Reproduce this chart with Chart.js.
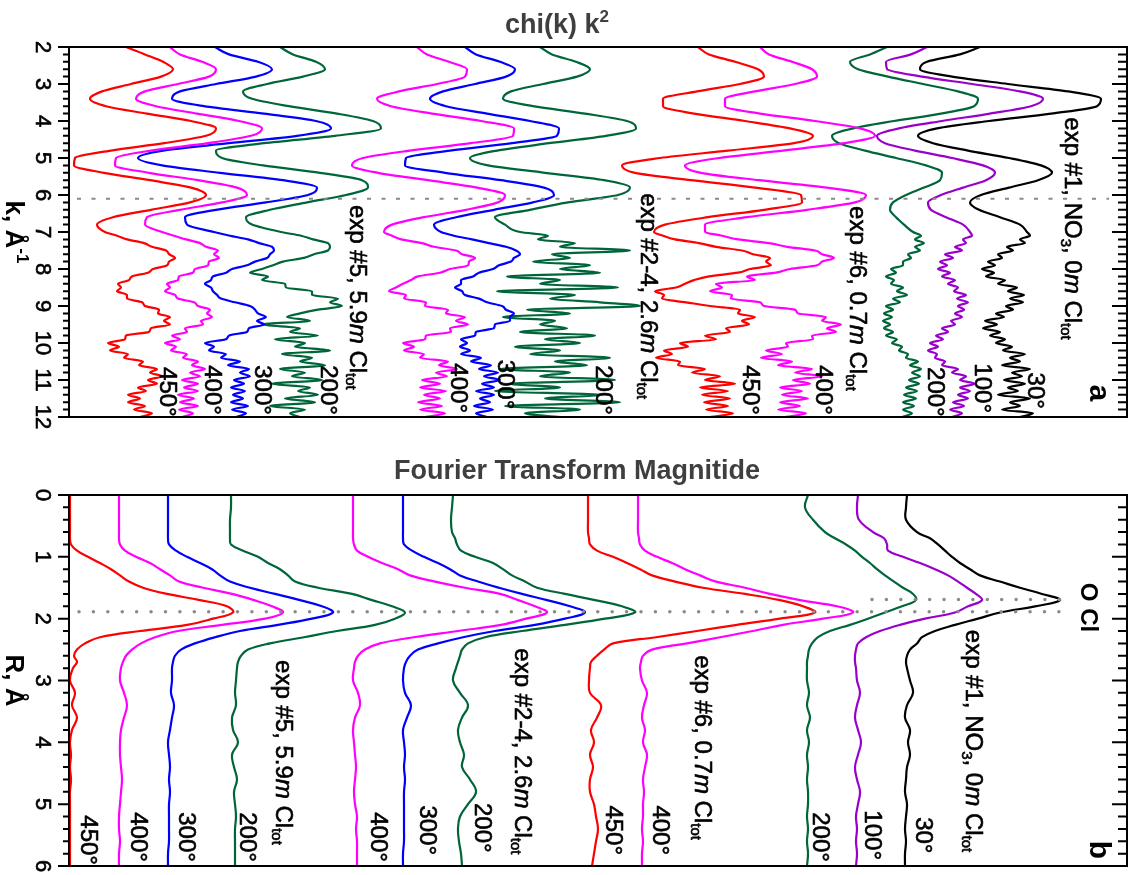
<!DOCTYPE html>
<html>
<head>
<meta charset="utf-8" />
<title>chi(k) k2 / Fourier Transform Magnitide</title>
<script src="https://cdn.jsdelivr.net/npm/chart.js@4.4.1/dist/chart.umd.min.js"></script>
<style>
  html, body { margin: 0; padding: 0; background: #fff; }
  canvas { display: block; }
</style>
</head>
<body>
<canvas id="chiChart" width="1140" height="440"></canvas>
<canvas id="ftChart" width="1140" height="435"></canvas>
<script>
// k grid: 0.2 steps to 6.8, then 0.1 steps where the noise sets in
const kValues = [
  2.0, 2.2, 2.4, 2.6, 2.8, 3.0, 3.2, 3.4, 3.6, 3.8, 4.0, 4.2, 4.4, 4.6, 4.8,
  5.0, 5.2, 5.4, 5.6, 5.8, 6.0, 6.2, 6.4, 6.6, 6.8,
  7.0, 7.1, 7.2, 7.3, 7.4, 7.5, 7.6, 7.7, 7.8, 7.9, 8.0, 8.1, 8.2, 8.3, 8.4,
  8.5, 8.6, 8.7, 8.8, 8.9, 9.0, 9.1, 9.2, 9.3, 9.4, 9.5, 9.6, 9.7, 9.8, 9.9,
  10.0, 10.1, 10.2, 10.3, 10.4, 10.5, 10.6, 10.7, 10.8, 10.9, 11.0, 11.1,
  11.2, 11.3, 11.4, 11.5, 11.6, 11.7, 11.8, 11.9, 12.0,
];
const rValues = [
  0, 0.2, 0.4, 0.6, 0.7, 0.8, 0.9, 1.0, 1.1, 1.2, 1.3, 1.4, 1.5, 1.6, 1.7,
  1.8, 1.9, 2.0, 2.1, 2.2, 2.3, 2.4, 2.5, 2.6, 2.7, 2.8, 3.0, 3.2, 3.4, 3.6,
  3.8, 4.0, 4.2, 4.4, 4.6, 4.8, 5.0, 5.2, 5.4, 5.6, 5.8, 6.0,
];
const kTicks = [2, 3, 4, 5, 6, 7, 8, 9, 10, 11, 12];
const rTicks = [0, 1, 2, 3, 4, 5, 6];

// chi(k)k^2 traces, offset along the horizontal axis (a.u.)
const chiExp5_450 = [
  5.7, 7.6, 9.4, 10.4, 9.2, 6.2, 3.3, 2.1, 3.7, 7.8, 12.2, 14.7, 13.7, 9.5, 4.2, 0.6, 0.5, 3.5, 8.1, 12.2, 13.7, 12.1, 8.2, 4.4, 2.8,
  3.6, 4.8, 5.8, 7.5, 8.3, 9.7, 10.0, 10.6, 10.0, 9.8, 8.4, 7.9, 6.3, 6.0, 4.9, 5.2, 4.8, 5.8, 5.8, 7.3,
  7.6, 9.0, 8.9, 10.1, 9.5, 10.1, 8.2, 8.0, 5.7, 5.6, 3.9, 5.0, 4.1, 5.9, 5.5, 7.4, 7.0, 8.8, 8.1, 9.3,
  7.9, 8.8, 6.9, 7.7, 5.9, 7.1, 5.9, 7.6, 6.5, 8.3, 7.1,
];
const chiExp5_400 = [
  10.1, 11.1, 13.3, 14.7, 14.0, 10.9, 7.6, 6.7, 8.7, 12.8, 17.0, 19.3, 18.2, 13.9, 8.2, 4.7, 4.6, 8.0, 12.9, 16.8, 17.8, 15.3, 11.1, 7.8, 7.6,
  9.3, 10.5, 11.7, 13.1, 13.7, 14.9, 14.5, 15.0, 14.0, 13.9, 12.6, 12.4, 11.0, 10.9, 9.8, 10.1, 9.6, 10.6, 10.9, 12.5,
  12.9, 14.1, 13.8, 14.3, 13.2, 13.4, 11.6, 11.8, 10.3, 11.1, 9.6, 10.7, 10.2, 11.8, 11.4, 12.9, 12.3, 13.6, 12.1, 13.1,
  11.3, 12.9, 11.5, 12.9, 10.9, 12.5, 11.1, 12.9, 11.0, 12.4, 11.3,
];
const chiExp5_300 = [
  14.6, 16.0, 18.9, 20.3, 18.7, 14.7, 11.1, 10.3, 13.5, 19.5, 24.7, 26.2, 22.8, 16.0, 9.4, 6.9, 9.3, 15.1, 21.4, 24.8, 23.9, 19.7, 14.7, 11.6, 11.8,
  14.5, 16.1, 17.9, 19.0, 20.3, 20.5, 20.1, 19.8, 18.6, 17.8, 16.3, 15.7, 14.4, 14.2, 13.6, 14.2, 14.4, 14.8, 15.2, 16.6,
  18.1, 18.6, 18.9, 19.7, 18.8, 19.5, 18.0, 17.8, 16.0, 15.7, 13.6, 14.5, 14.0, 15.7, 15.2, 17.1, 15.9, 18.0, 17.1, 18.1,
  16.5, 17.5, 16.2, 17.6, 16.4, 17.4, 16.2, 17.9, 16.3, 17.7, 16.7,
];
const chiExp5_200 = [
  21.1, 22.4, 24.7, 25.6, 23.4, 19.8, 17.4, 18.3, 22.0, 26.8, 30.4, 31.2, 26.6, 19.5, 14.7, 15.3, 19.4, 25.1, 29.3, 29.9, 27.7, 23.8, 20.1, 17.7, 18.3,
  21.2, 23.2, 24.4, 25.9, 26.1, 25.9, 24.5, 23.5, 21.4, 20.4, 19.3, 18.1, 19.9, 19.3, 21.6, 21.7, 24.3, 24.3, 26.9, 26.1,
  27.3, 24.9, 23.1, 21.8, 24.1, 19.3, 23.1, 22.1, 24.9, 20.6, 23.6, 22.6, 26.1, 21.3, 24.3, 23.1, 25.6, 21.1, 23.6, 22.3,
  25.3, 20.3, 24.1, 22.9, 24.9, 21.6, 24.6, 20.1, 23.6, 22.1, 23.1,
];
const chiExp24_400 = [
  34.8, 35.8, 38.0, 39.8, 39.6, 36.8, 33.0, 30.8, 32.2, 36.3, 41.2, 44.5, 44.4, 40.2, 34.1, 29.4, 28.3, 30.9, 35.9, 40.8, 43.6, 42.9, 39.7, 35.5, 32.3,
  31.5, 32.3, 33.2, 35.3, 36.5, 38.7, 39.3, 40.6, 40.0, 39.9, 38.1, 37.1, 34.9, 34.2, 33.4, 32.7, 32.0, 33.7, 33.5, 35.7,
  35.6, 37.9, 37.7, 39.6, 38.7, 39.9, 38.1, 38.2, 35.7, 35.6, 33.4, 34.5, 33.5, 35.5, 35.1, 37.9, 37.0, 38.8, 36.7, 37.8,
  35.3, 37.1, 35.1, 37.7, 35.5, 37.1, 34.9, 37.3, 35.1, 37.6, 35.6,
];
const chiExp24_300 = [
  39.6, 40.7, 43.1, 44.6, 43.7, 40.6, 37.4, 36.1, 37.7, 41.8, 46.1, 49.0, 48.8, 44.3, 38.1, 33.7, 33.6, 37.6, 43.2, 47.5, 48.5, 46.4, 42.5, 38.7, 36.5,
  37.2, 38.5, 40.3, 42.0, 43.7, 44.7, 45.1, 44.5, 44.2, 43.0, 42.4, 41.0, 40.4, 39.2, 39.2, 38.6, 39.3, 39.6, 41.0, 41.8,
  43.3, 43.7, 44.5, 44.1, 44.1, 42.6, 42.5, 40.7, 40.6, 39.2, 39.8, 39.1, 40.1, 39.2, 41.2, 40.2, 42.2, 41.0, 42.9, 41.5,
  43.1, 41.3, 42.5, 40.7, 42.5, 41.1, 42.1, 40.5, 42.4, 40.7, 41.8,
];
const chiExp24_200 = [
  47.1, 48.3, 50.7, 52.1, 50.8, 47.4, 44.2, 43.4, 46.4, 51.6, 55.8, 56.7, 53.7, 48.0, 42.8, 40.1, 41.9, 47.6, 53.5, 56.1, 54.9, 49.9, 46.1, 42.6, 43.6,
  45.1, 47.9, 46.9, 50.6, 49.1, 56.1, 48.3, 50.1, 46.4, 52.1, 49.1, 53.1, 43.8, 49.1, 47.1, 54.9, 42.8, 50.6, 48.1, 53.1,
  57.1, 45.8, 50.1, 43.4, 48.6, 47.1, 49.8, 45.1, 52.6, 47.6, 51.1, 44.6, 49.1, 46.1, 54.1, 48.6, 51.8, 43.1, 50.1, 47.1,
  54.6, 44.1, 49.1, 42.6, 53.1, 47.6, 55.1, 43.6, 51.1, 45.6, 49.1,
];
const chiExp6_450 = [
  62.9, 64.0, 66.6, 68.9, 69.5, 67.1, 62.8, 59.4, 59.4, 62.5, 67.6, 72.1, 74.4, 72.5, 65.9, 59.1, 55.3, 56.6, 62.2, 68.6, 73.2, 73.3, 69.5, 63.9, 59.6,
  58.5, 59.4, 60.6, 63.0, 64.7, 67.3, 68.4, 70.1, 69.7, 70.2, 68.1, 66.9, 64.0, 62.5, 61.6, 60.7, 58.6, 59.5, 59.3, 61.7,
  64.1, 67.1, 66.9, 68.6, 67.3, 68.0, 65.7, 66.1, 63.6, 64.7, 61.1, 61.9, 59.5, 60.3, 58.7, 61.1, 60.9, 63.6, 62.3, 65.1,
  63.6, 66.6, 63.1, 65.9, 63.3, 66.1, 63.5, 65.9, 63.7, 66.4, 64.1,
];
const chiExp6_400 = [
  69.1, 70.0, 72.3, 74.3, 74.8, 72.6, 68.6, 65.6, 65.6, 69.1, 74.6, 79.1, 80.6, 77.5, 71.4, 65.0, 61.6, 63.2, 69.0, 75.8, 79.7, 78.6, 73.8, 67.8, 63.6,
  63.6, 65.3, 66.9, 70.0, 71.8, 74.6, 75.3, 76.5, 75.3, 74.8, 72.1, 70.7, 67.8, 68.6, 64.7, 65.3, 64.1, 66.3, 66.2, 69.1,
  69.5, 72.6, 72.9, 75.7, 75.3, 77.2, 75.8, 76.7, 74.3, 74.4, 71.7, 71.9, 69.7, 71.3, 69.2, 72.3, 70.9, 74.3, 72.6, 75.3,
  72.4, 74.1, 71.1, 73.3, 71.3, 73.9, 71.1, 73.1, 70.9, 73.7, 71.6,
];
const chiExp1_200 = [
  81.8, 80.1, 78.1, 78.9, 81.9, 85.4, 88.9, 90.9, 90.5, 87.2, 82.5, 78.4, 76.3, 77.0, 79.6, 82.7, 85.7, 87.3, 87.1, 85.5, 83.7, 82.4, 82.1, 82.7, 83.5,
  84.4, 85.2, 84.6, 85.5, 84.6, 85.1, 83.9, 84.2, 83.4, 83.4, 82.2, 82.7, 81.7, 82.5, 82.2, 83.4, 82.8, 83.8, 82.4, 83.1,
  81.7, 82.4, 81.5, 82.3, 81.4, 82.1, 81.5, 82.4, 81.7, 82.8, 82.3, 83.3, 83.0, 83.9, 83.7, 84.9, 84.1, 85.2, 84.3, 85.1,
  84.0, 85.0, 83.7, 84.8, 83.5, 84.7, 83.4, 84.5, 83.4, 84.3, 83.3,
];
const chiExp1_100 = [
  85.8, 84.2, 81.7, 81.8, 85.3, 90.3, 95.1, 97.4, 96.2, 92.1, 87.3, 83.0, 80.8, 81.6, 84.6, 88.3, 91.4, 92.6, 91.7, 89.4, 87.2, 85.9, 86.2, 87.7, 89.4,
  90.1, 90.3, 89.4, 89.7, 88.6, 89.3, 87.6, 88.4, 87.1, 87.8, 86.9, 88.1, 87.3, 88.6, 87.9, 88.9, 88.5, 89.7, 88.8, 89.9,
  88.9, 89.5, 88.6, 89.3, 88.2, 88.6, 87.3, 87.9, 86.7, 87.4, 86.1, 86.9, 85.9, 86.8, 86.6, 87.6, 87.3, 88.9, 88.3, 89.7,
  89.1, 90.6, 89.1, 90.1, 88.9, 89.9, 88.4, 89.5, 88.1, 89.3, 88.3,
];
const chiExp1_30 = [
  91.1, 89.1, 85.8, 85.1, 88.3, 93.9, 99.9, 103.2, 102.8, 98.2, 92.0, 86.8, 84.9, 86.4, 89.9, 94.0, 97.2, 98.3, 96.9, 94.0, 91.2, 90.1, 91.0, 93.1, 95.1,
  95.8, 96.1, 95.1, 95.6, 93.8, 94.4, 92.9, 93.3, 91.9, 92.6, 91.3, 92.5, 91.7, 93.6, 92.9, 94.8, 93.9, 95.5, 94.1, 95.4,
  93.7, 94.4, 92.7, 93.5, 91.6, 92.8, 91.4, 93.1, 92.1, 93.6, 92.7, 94.3, 93.4, 95.6, 94.1, 95.1, 93.3, 96.1, 94.3, 95.3,
  93.5, 95.6, 93.9, 94.9, 92.9, 96.1, 94.1, 95.1, 93.3, 96.4, 95.1,
];

// |FT| traces against R, same offsets
const ftExp5_450 = [
  0.1, 0.1, 0.1, 0.1, 0.1, 0.2, 0.8, 1.9, 3.1, 4.2, 5.1, 6.0, 7.4, 9.8, 13.1, 15.8, 16.4, 14.4, 11.8, 7.1, 3.1,
  1.6, 0.8, 0.5, 0.8, 0.4, 0.1, 0.6, 0.3, 0.8, 0.3, 0.1, 0.2, 0.1, 0.2, 0.1, 0.1, 0.1, 0.1, 0.1, 0.1, 0.1,
];
const ftExp5_400 = [
  5.0, 5.0, 5.0, 5.0, 5.0, 5.1, 5.6, 6.7, 8.1, 9.1, 10.1, 11.0, 13.4, 16.3, 18.5, 20.3, 21.4, 19.6, 15.3, 10.9, 8.6,
  7.2, 6.3, 5.7, 5.4, 5.2, 5.1, 5.5, 5.8, 5.5, 5.2, 5.1, 5.1, 5.2, 5.3, 5.2, 5.1, 5.0, 5.0, 5.1, 5.0, 5.0,
];
const ftExp5_300 = [
  9.9, 9.9, 9.9, 9.9, 9.9, 10.0, 10.7, 11.8, 13.1, 14.3, 15.1, 16.1, 18.1, 20.6, 23.1, 25.3, 26.4, 24.3, 20.9, 17.1, 14.6,
  12.6, 11.2, 10.6, 10.4, 10.3, 10.3, 10.2, 10.5, 10.3, 10.1, 9.9, 10.0, 10.1, 10.0, 10.1, 10.0, 10.0, 10.0, 10.0, 9.9, 9.9,
];
const ftExp5_200 = [
  16.2, 16.2, 16.1, 16.1, 16.1, 16.2, 17.4, 18.9, 19.9, 21.1, 21.9, 22.6, 24.9, 28.3, 30.3, 32.3, 33.6, 32.6, 30.6, 26.8, 23.5,
  20.1, 17.9, 17.2, 16.9, 16.8, 16.7, 16.6, 16.7, 16.3, 16.4, 16.9, 16.3, 16.5, 16.8, 16.5, 16.6, 16.7, 16.6, 16.6, 16.6, 16.6,
];
const ftExp24_400 = [
  28.4, 28.4, 28.4, 28.4, 28.4, 28.5, 28.8, 29.9, 31.3, 32.9, 34.1, 36.6, 39.6, 43.1, 44.9, 46.6, 47.8, 45.7, 43.2, 38.9, 34.5,
  31.1, 29.6, 28.9, 28.6, 28.5, 28.4, 28.9, 29.1, 28.6, 28.4, 28.5, 28.6, 28.7, 28.6, 28.5, 28.6, 28.8, 28.7, 28.8, 28.8, 28.8,
];
const ftExp24_300 = [
  33.4, 33.4, 33.4, 33.4, 33.4, 33.5, 34.3, 35.5, 36.9, 38.1, 39.1, 40.9, 43.0, 45.3, 47.8, 50.1, 51.6, 49.6, 46.6, 42.6, 39.4,
  36.9, 34.9, 34.1, 33.7, 33.5, 33.4, 33.6, 34.2, 33.8, 33.4, 33.5, 33.6, 33.5, 33.6, 33.5, 33.5, 33.5, 33.5, 33.5, 33.4, 33.4,
];
const ftExp24_200 = [
  38.4, 38.3, 38.2, 38.3, 38.6, 38.8, 39.2, 40.6, 42.4, 43.4, 44.3, 45.6, 46.8, 49.6, 52.6, 55.3, 56.6, 53.6, 49.6, 45.3, 41.6,
  39.9, 39.3, 39.1, 38.9, 38.7, 38.4, 39.1, 39.9, 39.3, 38.9, 39.1, 39.5, 39.3, 40.1, 40.7, 39.9, 39.1, 38.9, 39.0, 39.2, 39.3,
];
const ftExp6_450 = [
  51.9, 51.9, 51.9, 51.9, 52.0, 52.1, 52.8, 54.4, 55.8, 57.1, 58.3, 60.6, 63.4, 67.6, 71.1, 73.4, 74.6, 71.1, 66.8, 62.8, 58.7,
  54.4, 53.5, 52.8, 52.2, 52.1, 52.0, 52.1, 53.2, 52.8, 52.2, 52.5, 52.1, 52.4, 52.1, 52.1, 52.5, 52.7, 52.9, 52.7, 52.5, 52.3,
];
const ftExp6_400 = [
  56.9, 56.9, 56.9, 56.9, 57.0, 57.1, 57.6, 58.8, 60.3, 61.6, 63.1, 64.7, 67.6, 70.1, 73.1, 76.8, 78.4, 75.4, 71.4, 68.4, 65.1,
  61.8, 58.3, 57.4, 57.2, 57.1, 57.3, 57.8, 57.5, 57.3, 57.6, 57.4, 57.8, 57.6, 57.4, 57.5, 57.4, 57.4, 57.3, 57.4, 57.3, 57.3,
];
const ftExp1_200 = [
  73.9, 73.6, 74.4, 75.6, 76.6, 77.7, 78.6, 79.3, 80.1, 80.8, 81.6, 82.5, 83.4, 84.4, 84.7, 83.3, 81.6, 79.9, 78.1, 76.1, 74.9,
  74.3, 74.0, 73.9, 73.8, 73.8, 73.8, 74.0, 73.8, 74.1, 73.8, 74.0, 73.8, 73.9, 73.8, 73.9, 73.9, 73.8, 73.9, 73.8, 73.9, 73.8,
];
const ftExp1_100 = [
  78.9, 78.8, 79.0, 80.4, 81.5, 81.8, 81.9, 83.4, 85.1, 86.6, 87.9, 88.9, 89.8, 90.7, 91.3, 89.9, 88.6, 85.6, 83.1, 81.1, 79.7,
  78.9, 78.7, 78.6, 78.6, 78.7, 78.8, 79.1, 78.8, 78.6, 78.9, 79.2, 78.9, 78.6, 78.8, 79.1, 78.9, 78.7, 78.8, 78.7, 78.8, 78.7,
];
const ftExp1_30 = [
  83.8, 83.7, 83.7, 84.8, 86.1, 86.9, 87.6, 88.3, 89.1, 90.1, 91.1, 93.1, 95.1, 97.3, 99.1, 96.6, 93.1, 90.9, 88.6, 86.6, 85.3,
  84.8, 84.1, 83.8, 83.7, 83.8, 84.1, 84.4, 83.8, 83.6, 84.1, 83.9, 84.1, 83.8, 83.7, 83.6, 83.8, 83.7, 83.6, 83.7, 83.6, 83.6,
];

// reference lines: first shell in the chi panel, O and Cl peaks in the FT panel
const chiMarkK = 6.1;
const ftMarkCl = 1.89;
const ftMarkO = 1.69;

const RED = "#ff0000";
const MAGENTA = "#ff00ff";
const BLUE = "#0000ff";
const GREEN = "#00663a";
const PURPLE = "#9900cc";
const BLACK = "#000000";
const FONT = '"Liberation Sans", Arial, Helvetica, sans-serif';

const traces = [
  { color: RED, chi: chiExp5_450, ft: ftExp5_450 },
  { color: MAGENTA, chi: chiExp5_400, ft: ftExp5_400 },
  { color: BLUE, chi: chiExp5_300, ft: ftExp5_300 },
  { color: GREEN, chi: chiExp5_200, ft: ftExp5_200 },
  { color: MAGENTA, chi: chiExp24_400, ft: ftExp24_400 },
  { color: BLUE, chi: chiExp24_300, ft: ftExp24_300 },
  { color: GREEN, chi: chiExp24_200, ft: ftExp24_200 },
  { color: RED, chi: chiExp6_450, ft: ftExp6_450 },
  { color: MAGENTA, chi: chiExp6_400, ft: ftExp6_400 },
  { color: GREEN, chi: chiExp1_200, ft: ftExp1_200 },
  { color: PURPLE, chi: chiExp1_100, ft: ftExp1_100 },
  { color: BLACK, chi: chiExp1_30, ft: ftExp1_30 },
];

const exp5 = [["exp #5, 5.9"], ["m", "i"], [" Cl"], ["tot", "sub"]];
const exp24 = [["exp #2-4, 2.6"], ["m", "i"], [" Cl"], ["tot", "sub"]];
const exp6 = [["exp #6, 0.7"], ["m", "i"], [" Cl"], ["tot", "sub"]];
const exp1 = [["exp #1, NO"], ["3", "sub"], [", 0"], ["m", "i"], [" Cl"], ["tot", "sub"]];
const deg = (t) => [[`${t}\u00b0`]];

// label anchors in data units (x offset, k or R where the text starts)
const chiLabels = [
  { x: 28.8, y: 6.27, parts: exp5 },
  { x: 57.9, y: 5.95, parts: exp24 },
  { x: 78.8, y: 6.3, parts: exp6 },
  { x: 100.3, y: 3.9, parts: exp1 },
  { x: 9.8, y: 10.65, parts: deg(450) },
  { x: 14.3, y: 10.6, parts: deg(400) },
  { x: 19.3, y: 10.6, parts: deg(300) },
  { x: 25.9, y: 10.6, parts: deg(200) },
  { x: 38.9, y: 10.55, parts: deg(400) },
  { x: 43.6, y: 10.45, parts: deg(300) },
  { x: 53.4, y: 10.6, parts: deg(200) },
  { x: 68.1, y: 10.6, parts: deg(450) },
  { x: 75.4, y: 10.6, parts: deg(400) },
  { x: 86.6, y: 10.65, parts: deg(200) },
  { x: 91.3, y: 10.55, parts: deg(100) },
  { x: 96.6, y: 10.8, parts: deg(30) },
  { x: 102.9, y: 11.35, parts: [["a"]], size: 30, bold: true, align: "center" },
];
const ftLabels = [
  { x: 21.4, y: 2.67, parts: exp5 },
  { x: 45.3, y: 2.48, parts: exp24 },
  { x: 63.3, y: 2.59, parts: exp6 },
  { x: 90.4, y: 2.18, parts: exp1 },
  { x: 1.9, y: 5.18, parts: deg(450) },
  { x: 6.9, y: 5.13, parts: deg(400) },
  { x: 11.7, y: 5.13, parts: deg(300) },
  { x: 17.8, y: 5.13, parts: deg(200) },
  { x: 30.9, y: 5.13, parts: deg(400) },
  { x: 35.8, y: 5.02, parts: deg(300) },
  { x: 41.3, y: 4.98, parts: deg(200) },
  { x: 54.4, y: 5.02, parts: deg(450) },
  { x: 59.1, y: 5.02, parts: deg(400) },
  { x: 75.1, y: 5.13, parts: deg(200) },
  { x: 80.3, y: 5.1, parts: deg(100) },
  { x: 85.4, y: 5.21, parts: deg(30) },
  { x: 101.9, y: 1.42, parts: [["O Cl"]], size: 24, bold: true },
  { x: 102.9, y: 5.74, parts: [["b"]], size: 30, bold: true, align: "center" },
];

// rich text run (italic / sub / sup pieces), optionally turned 90deg clockwise
function drawRich(ctx, x, y, parts, size, weight, align, angle, heavy) {
  ctx.save();
  ctx.translate(x, y);
  ctx.rotate(angle);
  ctx.textBaseline = "middle";
  ctx.textAlign = "left";
  ctx.lineWidth = 0.6;
  ctx.strokeStyle = ctx.fillStyle;
  const runs = parts.map(([text, style]) => {
    const small = style === "sub" || style === "sup";
    const font = `${style === "i" ? "italic " : ""}${weight} ${
      small ? Math.round(size * 0.64) : size
    }px ${FONT}`;
    ctx.font = font;
    return {
      text,
      font,
      width: ctx.measureText(text).width,
      dy: style === "sub" ? size * 0.28 : style === "sup" ? -size * 0.34 : 0,
    };
  });
  const total = runs.reduce((s, r) => s + r.width, 0);
  let pos = align === "center" ? -total / 2 : 0;
  runs.forEach((r) => {
    ctx.font = r.font;
    ctx.fillText(r.text, pos, r.dy);
    if (heavy) ctx.strokeText(r.text, pos, r.dy);
    pos += r.width;
  });
  ctx.restore();
}

const makeDecor = (cfg) => ({
  id: "panelDecor",
  afterDatasetsDraw(chart) {
    const { ctx, chartArea: area } = chart;
    const xs = chart.scales.x;
    const ys = chart.scales.y;
    ctx.save();
    ctx.strokeStyle = "#000";
    ctx.fillStyle = "#000";
    ctx.lineWidth = 2;
    ctx.strokeRect(area.left, area.top, area.right - area.left, area.bottom - area.top);

    ctx.beginPath();
    cfg.ticks.forEach((v, i) => {
      const py = ys.getPixelForValue(v);
      ctx.moveTo(area.left - 11, py);
      ctx.lineTo(area.left, py);
      ctx.moveTo(area.right - 15, py);
      ctx.lineTo(area.right, py);
      const next = cfg.ticks[i + 1];
      if (next === undefined) return;
      for (let j = 1; j < 5; j++) {
        const my = ys.getPixelForValue(v + ((next - v) * j) / 5);
        ctx.moveTo(area.left - 6, my);
        ctx.lineTo(area.left, my);
        ctx.moveTo(area.right - 9, my);
        ctx.lineTo(area.right, my);
      }
    });
    ctx.stroke();

    const turn = Math.PI / 2;
    cfg.ticks.forEach((v) => {
      drawRich(ctx, area.left - 27, ys.getPixelForValue(v), [[String(v)]], 22, "normal", "center", turn, true);
    });
    drawRich(ctx, 13, (area.top + area.bottom) / 2, cfg.axisTitle, 26, "bold", "center", turn, false);

    cfg.labels.forEach((l) => {
      drawRich(
        ctx,
        xs.getPixelForValue(l.x),
        ys.getPixelForValue(l.y),
        l.parts,
        l.size || 24,
        l.bold ? "bold" : "normal",
        l.align || "start",
        turn,
        !l.bold
      );
    });

    ctx.fillStyle = "#3f3f3f";
    drawRich(ctx, cfg.title.x, cfg.title.y, cfg.title.parts, 27, "bold", "center", 0, false);
    ctx.restore();
  },
});

const traceSets = (key, grid, smoothing) =>
  traces.map((t) => ({
    data: grid.map((v, i) => ({ x: t[key][i], y: v })),
    borderColor: t.color,
    borderWidth: 2.2,
    ...smoothing,
    pointRadius: 0,
    fill: false,
  }));

const markLine = (y, x0, x1, round) => ({
  data: [
    { x: x0, y },
    { x: x1, y },
  ],
  borderColor: "#8a8a8a",
  borderWidth: round ? 3.5 : 2,
  borderDash: round ? [0.01, 14.4] : [4, 10.5],
  borderCapStyle: round ? "round" : "butt",
  tension: 0,
  pointRadius: 0,
  fill: false,
});

const baseOptions = (yMin, yMax, padding) => ({
  responsive: false,
  animation: false,
  indexAxis: "y",
  layout: { padding },
  plugins: { legend: { display: false }, tooltip: { enabled: false } },
  scales: {
    x: { type: "linear", min: 0, max: 105.8, display: false },
    y: { type: "linear", min: yMin, max: yMax, reverse: true, display: false },
  },
});

new Chart(document.getElementById("chiChart"), {
  type: "line",
  data: {
    datasets: [
      markLine(chiMarkK, 0.8, 104, false),
      ...traceSets("chi", kValues, { cubicInterpolationMode: "monotone" }),
    ],
  },
  options: baseOptions(2, 12, { left: 69, top: 47, right: 13, bottom: 23 }),
  plugins: [
    makeDecor({
      ticks: kTicks,
      axisTitle: [["k, \u00c5"], ["-1", "sup"]],
      labels: chiLabels,
      title: { x: 557, y: 26, parts: [["chi(k) k"], ["2", "sup"]] },
    }),
  ],
});

new Chart(document.getElementById("ftChart"), {
  type: "line",
  data: {
    datasets: [
      markLine(ftMarkCl, 1.0, 100.4, true),
      markLine(ftMarkO, 80.3, 100.4, true),
      ...traceSets("ft", rValues, { tension: 0.4 }),
    ],
  },
  options: baseOptions(0, 6, { left: 69, top: 55, right: 13, bottom: 9 }),
  plugins: [
    makeDecor({
      ticks: rTicks,
      axisTitle: [["R, \u00c5"]],
      labels: ftLabels,
      title: { x: 577, y: 32, parts: [["Fourier Transform Magnitide"]] },
    }),
  ],
});
</script>
</body>
</html>
